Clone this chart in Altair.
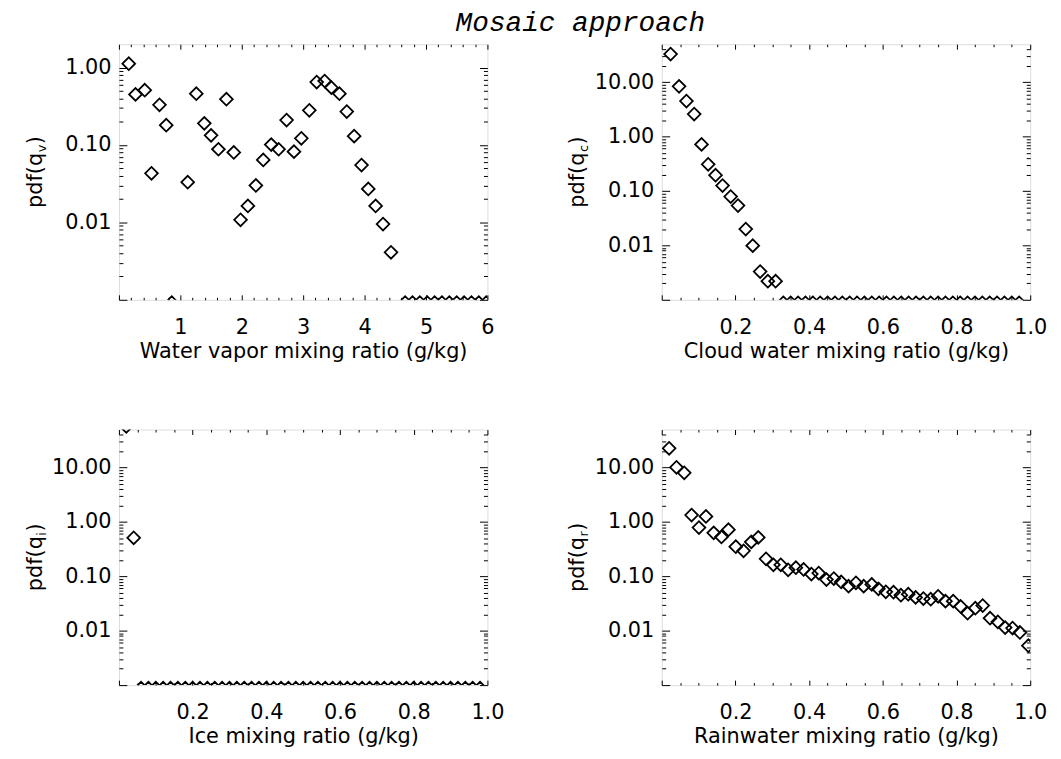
import altair as alt
import pandas as pd

# ---------------- data ----------------
# Water vapour
wv_x = [0.16, 0.27, 0.42, 0.53, 0.66, 0.77, 1.12, 1.26, 1.39, 1.50, 1.62, 1.75,
        1.87, 1.98, 2.10, 2.23, 2.35, 2.48, 2.60, 2.73, 2.85, 2.97, 3.10, 3.22,
        3.35, 3.46, 3.59, 3.71, 3.83, 3.95, 4.06, 4.18, 4.30, 4.43]
wv_y = [1.12, 0.45, 0.51, 0.043, 0.33, 0.18, 0.033, 0.46, 0.19, 0.133, 0.088, 0.39,
        0.08, 0.0108, 0.0163, 0.030, 0.064, 0.101, 0.088, 0.21, 0.082, 0.122, 0.28, 0.65,
        0.67, 0.55, 0.46, 0.27, 0.13, 0.055, 0.027, 0.0163, 0.0095, 0.0041]
wv_zero_x = [0.86, 4.66, 4.78, 4.90, 5.02, 5.14, 5.26, 5.38, 5.50, 5.62, 5.74, 5.86, 5.98]

# Cloud water
cw_x = [0.024, 0.047, 0.067, 0.088, 0.108, 0.126, 0.146, 0.165, 0.187, 0.207,
        0.228, 0.247, 0.267, 0.288, 0.309]
cw_y = [33.0, 8.4, 4.5, 2.6, 0.72, 0.31, 0.195, 0.126, 0.079, 0.054,
        0.020, 0.0099, 0.0033, 0.0022, 0.0022]
cw_zero_x = [0.33, 0.35, 0.37, 0.39, 0.41, 0.43, 0.45, 0.47, 0.49, 0.51, 0.53,
             0.55, 0.57, 0.59, 0.61, 0.63, 0.65, 0.67, 0.69, 0.71, 0.73, 0.75,
             0.77, 0.79, 0.81, 0.83, 0.85, 0.87, 0.89, 0.91, 0.93, 0.95, 0.97]

# Ice
ice_x = [0.02, 0.04]
ice_y = [57.0, 0.51]
ice_zero_x = [0.06, 0.08, 0.10, 0.12, 0.14, 0.16, 0.18, 0.20, 0.22, 0.24, 0.26,
              0.28, 0.30, 0.32, 0.34, 0.36, 0.38, 0.40, 0.42, 0.44, 0.46, 0.48,
              0.50, 0.52, 0.54, 0.56, 0.58, 0.60, 0.62, 0.64, 0.66, 0.68, 0.70,
              0.72, 0.74, 0.76, 0.78, 0.80, 0.82, 0.84, 0.86, 0.88, 0.90, 0.92,
              0.94, 0.96, 0.98]

# Rain water
rw_x = [0.020, 0.040, 0.061, 0.081, 0.101, 0.120, 0.141, 0.162, 0.181, 0.201,
        0.222, 0.243, 0.262, 0.283, 0.303, 0.323, 0.343, 0.364, 0.385, 0.406,
        0.426, 0.447, 0.467, 0.487, 0.507, 0.527, 0.548, 0.570, 0.588, 0.608,
        0.629, 0.649, 0.669, 0.689, 0.710, 0.730, 0.750, 0.770, 0.791, 0.811,
        0.830, 0.851, 0.871, 0.891, 0.912, 0.932, 0.952, 0.972, 0.995]
rw_y = [22.6, 10.1, 8.0, 1.34, 0.79, 1.26, 0.63, 0.53, 0.72, 0.35,
        0.295, 0.43, 0.52, 0.21, 0.163, 0.163, 0.132, 0.144, 0.134, 0.11,
        0.115, 0.087, 0.091, 0.079, 0.066, 0.076, 0.066, 0.071, 0.059, 0.052,
        0.051, 0.045, 0.047, 0.041, 0.039, 0.038, 0.043, 0.035, 0.035, 0.028,
        0.021, 0.026, 0.029, 0.017, 0.0146, 0.0114, 0.0112, 0.0093, 0.0053]
rw_zero_x = []

# value at which zero bins are drawn (just below the lower axis limit)
FLOOR_WV = 0.00092
FLOOR_OTHER = 0.00088

# axis texts
title_text = "Mosaic approach"
x_titles = ["Water vapor mixing ratio (g/kg)", "Cloud water mixing ratio (g/kg)",
            "Ice mixing ratio (g/kg)", "Rainwater mixing ratio (g/kg)"]
y_subs = ["v", "c", "i", "r"]

# ---------------- styling / layout ----------------
FONT = "DejaVu Sans"
FS = 21
SUB_FS = 13
W, H = 372, 258


def log_minor(lo, hi):
    out = []
    for dec in [0.0001, 0.001, 0.01, 0.1, 1, 10]:
        for m in range(2, 10):
            v = round(m * dec, 6)
            if lo < v < hi:
                out.append(v)
    return out


def lin_ticks(lo, hi, step):
    n = int(round((hi - lo) / step))
    return [round(lo + i * step, 6) for i in range(n + 1)]


def panel(xs, ys, zx, floor, xdom, ydom, xmaj, xminr, xlab, xfmt, ymaj, xtitle, sub):
    df = pd.DataFrame({"x": list(xs) + list(zx), "y": list(ys) + [floor] * len(zx)})
    xs_ = alt.Scale(domain=xdom, nice=False, zero=False)
    ys_ = alt.Scale(type="log", domain=ydom, nice=False)
    base = alt.Chart(df)
    ymin = log_minor(ydom[0], ydom[1])

    pts = base.mark_point(shape="diamond", filled=False, color="black", size=165,
                          strokeWidth=1.8, opacity=1, clip=True).encode(
        x=alt.X("x:Q", scale=xs_, axis=alt.Axis(
            values=xlab, format=xfmt, ticks=False, tickSize=0, domain=False, grid=False,
            labelFont=FONT, labelFontSize=FS, labelColor="black", labelPadding=17,
            labelFlush=False, labelOverlap=False, labelBound=False,
            title=xtitle, titleFont=FONT, titleFontSize=FS, titleFontWeight="normal",
            titleColor="black", titlePadding=3)),
        y=alt.Y("y:Q", scale=ys_, axis=alt.Axis(
            values=ymaj, format=".2f", ticks=False, tickSize=0, domain=False, grid=False,
            labelFont=FONT, labelFontSize=FS, labelColor="black", labelPadding=8,
            labelFlush=False, labelOverlap=False, labelBound=False, title=None)),
    )

    def ticks(xv, yv, xo, yo, xl, yl):
        return base.mark_point(opacity=0).encode(
            x=alt.X("x:Q", scale=xs_, axis=alt.Axis(
                orient=xo, offset=-H, values=xv, labels=False, ticks=True, tickSize=xl,
                tickColor="black", tickWidth=1, domain=False, grid=False, title=None)),
            y=alt.Y("y:Q", scale=ys_, axis=alt.Axis(
                orient=yo, offset=-W, values=yv, labels=False, ticks=True, tickSize=yl,
                tickColor="black", tickWidth=1, domain=False, grid=False, title=None)),
        )

    ymaj_t = [v for v in [0.001, 0.01, 0.1, 1, 10] if ydom[0] <= v <= ydom[1]]
    layers = [
        pts,
        ticks(xmaj, ymaj_t, "top", "right", 5, 8),
        ticks(xminr, ymin, "top", "right", 2.5, 4),
        ticks(xmaj, ymaj_t, "bottom", "left", 5, 8),
        ticks(xminr, ymin, "bottom", "left", 2.5, 4),
    ]

    # rotated y title with a subscript (DejaVu Sans advance widths)
    w1 = 2.647 * FS
    wsub = {"v": 0.592, "c": 0.550, "i": 0.278, "r": 0.411}[sub] * SUB_FS + 1
    total = w1 + wsub + 0.390 * FS
    y0 = H / 2 + total / 2
    xb = -78
    one = pd.DataFrame({"t": ["pdf(q"], "s": [sub], "p": [")"]})
    tb = alt.Chart(one)
    common = dict(angle=270, align="left", baseline="alphabetic", font=FONT, color="black")
    layers.append(tb.mark_text(fontSize=FS, **common).encode(
        text="t:N", x=alt.value(xb), y=alt.value(y0)))
    layers.append(tb.mark_text(fontSize=SUB_FS, **common).encode(
        text="s:N", x=alt.value(xb + 4), y=alt.value(y0 - w1 - 0.5)))
    layers.append(tb.mark_text(fontSize=FS, **common).encode(
        text="p:N", x=alt.value(xb), y=alt.value(y0 - w1 - wsub)))

    return alt.layer(*layers).resolve_axis(x="independent", y="independent").properties(
        width=W, height=H)


x6_maj = lin_ticks(0, 6, 1)
x6_min = [v for v in lin_ticks(0, 6, 0.2) if v not in x6_maj]
x1_maj = lin_ticks(0, 1, 0.2)
x1_min = [v for v in lin_ticks(0, 1, 0.05) if v not in x1_maj]

p1 = panel(wv_x, wv_y, wv_zero_x, FLOOR_WV, [0, 6], [0.001, 2.0], x6_maj, x6_min,
           [1, 2, 3, 4, 5, 6], "d", [0.01, 0.1, 1], x_titles[0], y_subs[0])
p2 = panel(cw_x, cw_y, cw_zero_x, FLOOR_OTHER, [0, 1], [0.001, 50], x1_maj, x1_min,
           [0.2, 0.4, 0.6, 0.8, 1.0], ".1f", [0.01, 0.1, 1, 10], x_titles[1], y_subs[1])
p3 = panel(ice_x, ice_y, ice_zero_x, FLOOR_OTHER, [0, 1], [0.001, 50], x1_maj, x1_min,
           [0.2, 0.4, 0.6, 0.8, 1.0], ".1f", [0.01, 0.1, 1, 10], x_titles[2], y_subs[2])
p4 = panel(rw_x, rw_y, rw_zero_x, FLOOR_OTHER, [0, 1], [0.001, 50], x1_maj, x1_min,
           [0.2, 0.4, 0.6, 0.8, 1.0], ".1f", [0.01, 0.1, 1, 10], x_titles[3], y_subs[3])

chart = alt.concat(
    p1, p2, p3, p4, columns=2, spacing={"row": 131, "column": 176}, bounds="flush",
    title=alt.TitleParams(title_text, font="Liberation Mono", fontStyle="italic",
                          fontSize=28, fontWeight="normal", color="black", anchor="middle",
                          dx=45, offset=6),
).properties(
    padding={"left": 16, "top": -2, "right": 5, "bottom": 5}
).configure_view(stroke="black", strokeWidth=1.6).configure(background="white")

chart.save("out.html", embed_options={"renderer": "svg", "actions": False})
